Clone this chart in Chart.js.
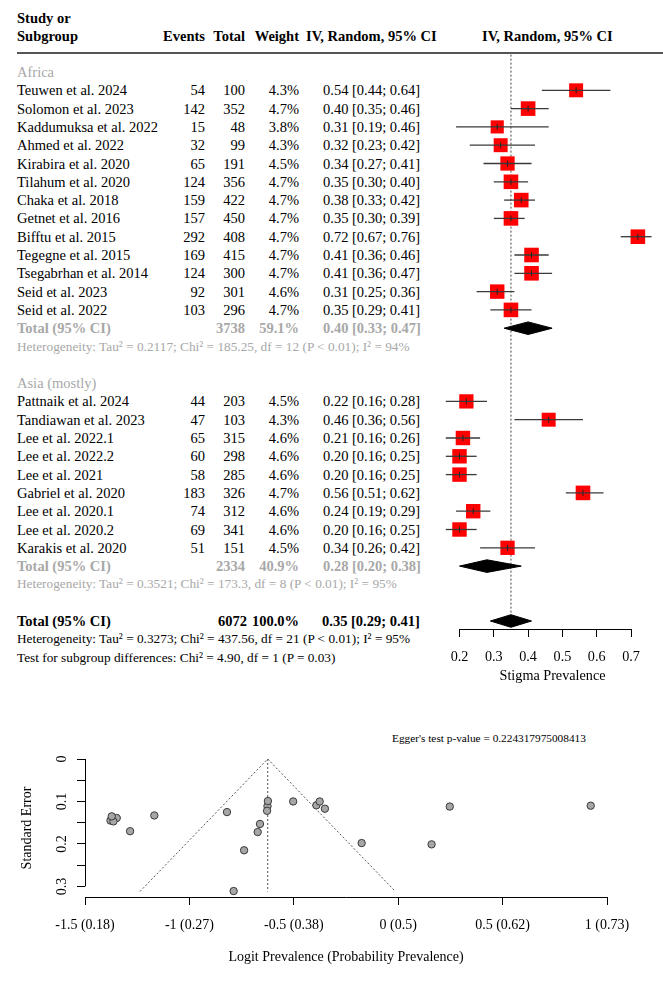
<!DOCTYPE html>
<html><head><meta charset="utf-8">
<script src="https://cdn.jsdelivr.net/npm/chart.js@4.4.1/dist/chart.umd.min.js"></script>
<style>
html,body{margin:0;padding:0;background:#fff;}
body{width:663px;height:986px;position:relative;overflow:hidden;font-family:"Liberation Serif","Times New Roman",serif;color:#000;}
.t{position:absolute;white-space:nowrap;line-height:18px;height:18px;font-size:14.5px;}
#forestWrap{position:absolute;left:442px;top:0;width:221px;height:700px;}
#funnelWrap{position:absolute;left:0;top:700px;width:663px;height:286px;}
#hline{position:absolute;left:17px;right:0;top:52px;height:1.6px;background:#555;}
</style></head><body>
<div id="table"></div>
<div id="hline"></div>
<div id="forestWrap"><canvas id="forest"></canvas></div>
<div id="funnelWrap"><canvas id="funnel"></canvas></div>
<script>
// ---------------- DATA ----------------
const studies = ["Teuwen et al. 2024","Solomon et al. 2023","Kaddumuksa et al. 2022","Ahmed et al. 2022","Kirabira et al. 2020","Tilahum et al. 2020","Chaka et al. 2018","Getnet et al. 2016","Bifftu et al. 2015","Tegegne et al. 2015","Tsegabrhan et al. 2014","Seid et al. 2023","Seid et al. 2022",
  "Pattnaik et al. 2024","Tandiawan et al. 2023","Lee et al. 2022.1","Lee et al. 2022.2","Lee et al. 2021","Gabriel et al. 2020","Lee et al. 2020.1","Lee et al. 2020.2","Karakis et al. 2020"];
const studyGroup = [0,0,0,0,0,0,0,0,0,0,0,0,0, 1,1,1,1,1,1,1,1,1];
const events = [54,142,15,32,65,124,159,157,292,169,124,92,103, 44,47,65,60,58,183,74,69,51];
const totals = [100,352,48,99,191,356,422,450,408,415,300,301,296, 203,103,315,298,285,326,312,341,151];
const weights = [4.3,4.7,3.8,4.3,4.5,4.7,4.7,4.7,4.7,4.7,4.7,4.6,4.7, 4.5,4.3,4.6,4.6,4.6,4.7,4.6,4.6,4.5];
const estimates = [0.54,0.40,0.31,0.32,0.34,0.35,0.38,0.35,0.72,0.41,0.41,0.31,0.35, 0.22,0.46,0.21,0.20,0.20,0.56,0.24,0.20,0.34];
const ciLower = [0.44,0.35,0.19,0.23,0.27,0.30,0.33,0.30,0.67,0.36,0.36,0.25,0.29, 0.16,0.36,0.16,0.16,0.16,0.51,0.19,0.16,0.26];
const ciUpper = [0.64,0.46,0.46,0.42,0.41,0.40,0.42,0.39,0.76,0.46,0.47,0.36,0.41, 0.28,0.56,0.26,0.25,0.25,0.62,0.29,0.25,0.42];

const subgroupNames = ["Africa","Asia (mostly)"];
const subgroupTotals = [3738, 2334];
const subgroupWeights = ["59.1%","40.9%"];
const subgroupEst = [0.40, 0.28];
const subgroupLo = [0.33, 0.20];
const subgroupHi = [0.47, 0.38];
const subgroupHet = ["Heterogeneity: Tau² = 0.2117; Chi² = 185.25, df = 12 (P < 0.01); I² = 94%",
                     "Heterogeneity: Tau² = 0.3521; Chi² = 173.3, df = 8 (P < 0.01); I² = 95%"];
const overallTotal = 6072;
const overallWeight = "100.0%";
const overallEst = 0.35, overallLo = 0.29, overallHi = 0.41;
const overallHet = "Heterogeneity: Tau² = 0.3273; Chi² = 437.56, df = 21 (P < 0.01); I² = 95%";
const subgroupTest = "Test for subgroup differences: Chi² = 4.90, df = 1 (P = 0.03)";

const forestTicks = [0.2,0.3,0.4,0.5,0.6,0.7];
const forestTickLabels = ["0.2","0.3","0.4","0.5","0.6","0.7"];

// funnel plot (logit prevalence, standard error), same study order
const funnelLogit = [0.160,-0.392,-0.788,-0.738,-0.662,-0.626,-0.503,-0.624,0.922,-0.376,-0.351,-0.820,-0.628,
  -1.284,-0.175,-1.348,-1.378,-1.364,0.247,-1.168,-1.372,-0.673];
const funnelSE = [0.201,0.109,0.311,0.215,0.153,0.111,0.100,0.099,0.110,0.100,0.117,0.125,0.122,
  0.170,0.198,0.139,0.145,0.147,0.112,0.133,0.135,0.172];
const funnelCenter = -0.625;
const funnelSeMax = 0.312;
const funnelTicksX = [-1.5,-1,-0.5,0,0.5,1];
const funnelTickLabelsX = ["-1.5 (0.18)","-1 (0.27)","-0.5 (0.38)","0 (0.5)","0.5 (0.62)","1 (0.73)"];
const funnelTicksY = [0,0.05,0.1,0.15,0.2,0.25,0.3];
const funnelLabelValsY = [0,0.1,0.2,0.3];
const funnelLabelsY = ["0","0.1","0.2","0.3"];
const eggerText = "Egger's test p-value = 0.224317975008413";

// ---------------- LAYOUT ----------------
const W = 663;
const ROW0 = 72, ROWH = 18.3;
const GREY = "#a8a8a8";
const rowY = r => ROW0 + ROWH * r;
const studyRow = studies.map((s,i) => studyGroup[i] === 0 ? 1 + i : 18 + (i - 13));
const subgroupHeadRow = [0, 17];
const subgroupTotalRow = [14, 27];
const subgroupHetRow = [15, 28];
const overallRow = 30, overallHetRow = 31, testRow = 32;

const table = document.getElementById('table');
function txt(s, x, y, o) {
  o = o || {};
  const d = document.createElement('div');
  d.className = 't';
  d.textContent = s;
  d.style.top = (y - 9) + 'px';
  if (o.align === 'right') d.style.right = (W - x) + 'px'; else d.style.left = x + 'px';
  if (o.bold) d.style.fontWeight = 'bold';
  if (o.color) d.style.color = o.color;
  if (o.size) d.style.fontSize = o.size + 'px';
  table.appendChild(d);
}
const X_NAME = 17, X_EV = 205, X_TOT = 245, X_WT = 299, X_CI = 323;
const fmt = v => v.toFixed(2);
const ciText = (e,l,h) => fmt(e) + " [" + fmt(l) + "; " + fmt(h) + "]";

// header
txt("Study or", X_NAME, 18, {bold:true});
txt("Subgroup", X_NAME, 36, {bold:true});
txt("Events", X_EV, 36, {bold:true, align:'right'});
txt("Total", X_TOT, 36, {bold:true, align:'right'});
txt("Weight", X_WT, 36, {bold:true, align:'right'});
txt("IV, Random, 95% CI", 306, 36, {bold:true});
txt("IV, Random, 95% CI", 482, 36, {bold:true});

studies.forEach((s,i) => {
  const y = rowY(studyRow[i]);
  txt(s, X_NAME, y);
  txt(String(events[i]), X_EV, y, {align:'right'});
  txt(String(totals[i]), X_TOT, y, {align:'right'});
  txt(weights[i].toFixed(1) + "%", X_WT, y, {align:'right'});
  txt(ciText(estimates[i], ciLower[i], ciUpper[i]), X_CI, y);
});
subgroupNames.forEach((g,k) => {
  txt(g, X_NAME, rowY(subgroupHeadRow[k]), {color:GREY});
  const y = rowY(subgroupTotalRow[k]);
  txt("Total (95% CI)", X_NAME, y, {bold:true, color:GREY});
  txt(String(subgroupTotals[k]), X_TOT, y, {bold:true, color:GREY, align:'right'});
  txt(subgroupWeights[k], X_WT, y, {bold:true, color:GREY, align:'right'});
  txt(ciText(subgroupEst[k], subgroupLo[k], subgroupHi[k]), X_CI, y, {bold:true, color:GREY});
  txt(subgroupHet[k], X_NAME, rowY(subgroupHetRow[k]), {color:GREY, size:13.3});
});
txt("Total (95% CI)", X_NAME, rowY(overallRow), {bold:true});
txt(String(overallTotal), X_TOT + 2, rowY(overallRow), {bold:true, align:'right'});
txt(overallWeight, X_WT, rowY(overallRow), {bold:true, align:'right'});
txt(ciText(overallEst, overallLo, overallHi), X_CI - 1, rowY(overallRow), {bold:true});
txt(overallHet, X_NAME, rowY(overallHetRow), {size:13.3});
txt(subgroupTest, X_NAME, rowY(testRow), {size:13.3});
txt(eggerText, 392, 738, {size:11.3});

Chart.defaults.font.family = '"Liberation Serif","Times New Roman",serif';
Chart.defaults.color = '#000';

// ---------------- FOREST ----------------
const PX_PER_UNIT = 343, PX02 = 459.5 - 442, FW = 221, FH = 700, AXIS_Y = 629;
const fxMin = forestTicks[0] - PX02 / PX_PER_UNIT;
const fxMax = fxMin + FW / PX_PER_UNIT;
const fyMin = -ROW0 / ROWH;
const fyMax = (AXIS_Y - ROW0) / ROWH;
const DH = 6.3 / ROWH; // diamond half height in row units

const forestDatasets = [];
forestDatasets.push({
  data: [{x: overallEst, y: -0.95}, {x: overallEst, y: overallRow - DH}],
  showLine: true, borderColor: '#444', borderWidth: 1, borderDash: [2,2], pointRadius: 0, order: 5
});
studies.forEach((s,i) => {
  forestDatasets.push({
    data: [{x: ciLower[i], y: studyRow[i]}, {x: ciUpper[i], y: studyRow[i]}],
    showLine: true, borderColor: '#3a3a3a', borderWidth: 1.3, pointRadius: 0, order: 1
  });
});
forestDatasets.push({
  data: studies.map((s,i) => ({x: estimates[i], y: studyRow[i]})),
  pointStyle: 'rect',
  pointRadius: weights.map(w => 14.6 * Math.sqrt(w / 4.7) / Math.SQRT2),
  backgroundColor: '#ff0000', borderColor: '#ff0000', borderWidth: 0, order: 3
});
forestDatasets.push({
  data: studies.map((s,i) => ({x: estimates[i], y: studyRow[i]})),
  pointStyle: 'line', pointRotation: 90, pointRadius: 3,
  borderColor: '#222', borderWidth: 1, order: 0
});
const diamonds = [
  [subgroupEst[0], subgroupLo[0], subgroupHi[0], subgroupTotalRow[0]],
  [subgroupEst[1], subgroupLo[1], subgroupHi[1], subgroupTotalRow[1]],
  [overallEst, overallLo, overallHi, overallRow]
];
diamonds.forEach(d => {
  forestDatasets.push({
    data: [{x:d[1], y:d[3]}, {x:d[0], y:d[3]-DH}, {x:d[2], y:d[3]}, {x:d[0], y:d[3]+DH}, {x:d[1], y:d[3]}],
    showLine: true, fill: 'shape', backgroundColor: '#000', borderColor: '#000', borderWidth: 1, pointRadius: 0, order: 2
  });
});

const forestAxisLine = {
  id: 'forestAxisLine',
  afterDraw(chart) {
    const xs = chart.scales.x, ctx = chart.ctx, y = Math.round(chart.chartArea.bottom) + 0.5;
    ctx.save(); ctx.strokeStyle = '#000'; ctx.lineWidth = 1;
    ctx.beginPath();
    ctx.moveTo(xs.getPixelForValue(forestTicks[0]), y);
    ctx.lineTo(xs.getPixelForValue(forestTicks[forestTicks.length-1]), y);
    ctx.stroke(); ctx.restore();
  }
};

new Chart(document.getElementById('forest'), {
  type: 'scatter',
  data: { datasets: forestDatasets },
  plugins: [forestAxisLine],
  options: {
    responsive: true, maintainAspectRatio: false, animation: false, events: [],
    layout: { padding: 0, autoPadding: false },
    plugins: { legend: {display:false}, tooltip: {enabled:false} },
    scales: {
      x: {
        type: 'linear', min: fxMin, max: fxMax, bounds: 'data',
        afterBuildTicks: s => { s.ticks = forestTicks.map(v => ({value: v})); },
        afterFit: s => { s.height = FH - AXIS_Y; s.paddingLeft = 0; s.paddingRight = 0; },
        ticks: { callback: (v, i) => forestTickLabels[i], font: {size: 14.2}, color: '#000', padding: 12, maxRotation: 0, autoSkip: false },
        grid: { drawOnChartArea: false, drawTicks: true, tickLength: 8, color: '#000', lineWidth: 1 },
        border: { display: false },
        title: { display: true, text: 'Stigma Prevalence', font: {size: 14.2}, color: '#000', padding: {top: 0, bottom: 15} }
      },
      y: { type: 'linear', reverse: true, min: fyMin, max: fyMax, display: false, bounds: 'data' }
    }
  }
});

// ---------------- FUNNEL ----------------
const funnelDatasets = [
  { data: [{x: funnelCenter - 1.96*funnelSeMax, y: funnelSeMax}, {x: funnelCenter, y: 0}, {x: funnelCenter + 1.96*funnelSeMax, y: funnelSeMax}],
    showLine: true, borderColor: '#555', borderWidth: 1, borderDash: [2,2], pointRadius: 0, order: 2 },
  { data: [{x: funnelCenter, y: 0}, {x: funnelCenter, y: funnelSeMax}],
    showLine: true, borderColor: '#555', borderWidth: 1, borderDash: [2,2], pointRadius: 0, order: 2 },
  { data: funnelLogit.map((v,i) => ({x: v, y: funnelSE[i]})),
    pointStyle: 'circle', pointRadius: 3.7, backgroundColor: '#a6a6a6', borderColor: '#3a3a3a', borderWidth: 1, order: 1 }
];

const funnelAxes = {
  id: 'funnelAxes',
  afterDraw(chart) {
    const ys = chart.scales.y, ctx = chart.ctx, x = Math.round(chart.chartArea.left) + 0.5;
    ctx.save(); ctx.strokeStyle = '#000'; ctx.lineWidth = 1;
    ctx.beginPath();
    ctx.moveTo(x, ys.getPixelForValue(funnelTicksY[0]));
    ctx.lineTo(x, ys.getPixelForValue(funnelTicksY[funnelTicksY.length-1]));
    ctx.stroke();
    ctx.fillStyle = '#000';
    ctx.font = '14px "Liberation Serif", serif';
    ctx.textAlign = 'center'; ctx.textBaseline = 'middle';
    funnelLabelValsY.forEach((v,i) => {
      ctx.save();
      ctx.translate(62, ys.getPixelForValue(v));
      ctx.rotate(-Math.PI/2);
      ctx.fillText(funnelLabelsY[i], 0, 0);
      ctx.restore();
    });
    ctx.restore();
  }
};

new Chart(document.getElementById('funnel'), {
  type: 'scatter',
  data: { datasets: funnelDatasets },
  plugins: [funnelAxes],
  options: {
    responsive: true, maintainAspectRatio: false, animation: false, events: [],
    layout: { padding: {top: 59, right: 56, left: 0, bottom: 0}, autoPadding: false },
    plugins: { legend: {display:false}, tooltip: {enabled:false} },
    scales: {
      x: {
        type: 'linear', min: funnelTicksX[0], max: funnelTicksX[funnelTicksX.length-1], bounds: 'data',
        afterBuildTicks: s => { s.ticks = funnelTicksX.map(v => ({value: v})); },
        afterFit: s => { s.height = 89; s.paddingLeft = 0; s.paddingRight = 0; },
        ticks: { callback: (v, i) => funnelTickLabelsX[i], font: {size: 14}, color: '#000', padding: 12, maxRotation: 0, autoSkip: false },
        grid: { drawOnChartArea: false, drawTicks: true, tickLength: 8, color: '#000' },
        border: { display: true, color: '#000', width: 1 },
        title: { display: true, text: 'Logit Prevalence (Probability Prevalence)', font: {size: 14}, color: '#000', padding: {top: 0, bottom: 20} }
      },
      y: {
        type: 'linear', reverse: true, min: 0, max: 0.325, bounds: 'data',
        afterBuildTicks: s => { s.ticks = funnelTicksY.map(v => ({value: v})); },
        afterFit: s => { s.width = 85; s.paddingTop = 0; s.paddingBottom = 0; },
        ticks: { display: false },
        grid: { drawOnChartArea: false, drawTicks: true, tickLength: 8, color: '#000' },
        border: { display: false },
        title: { display: true, text: 'Standard Error', font: {size: 14}, color: '#000', padding: {top: 19, bottom: 0} }
      }
    }
  }
});
</script>
</body></html>
